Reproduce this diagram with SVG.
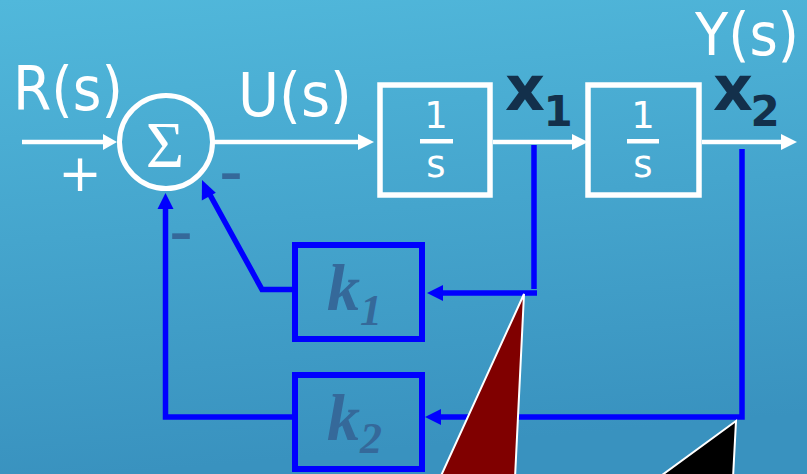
<svg xmlns="http://www.w3.org/2000/svg" width="807" height="474" viewBox="0 0 807 474">
<defs>
<linearGradient id="bg" x1="0" y1="0" x2="0.15" y2="1">
<stop offset="0" stop-color="#51b8db"/>
<stop offset="1" stop-color="#3992bf"/>
</linearGradient>
<style>
.w{fill:none;stroke:#fff;stroke-width:4.5}
.wh{fill:#fff}
.b{fill:none;stroke:#0000ff;stroke-width:5.5}
.bh{fill:#0000ff}
.blk{fill:none;stroke:#fff;stroke-width:5.5}
.kb{fill:none;stroke:#0000ff;stroke-width:6}
.lbl{font-family:"DejaVu Sans","Liberation Sans",sans-serif;fill:#fff}
.frac{font-family:"DejaVu Sans","Liberation Sans",sans-serif;fill:#fff;font-size:37px;text-anchor:middle}
.x{font-family:"DejaVu Sans","Liberation Sans",sans-serif;font-weight:bold;fill:#13304b;text-anchor:middle}
.k{font-family:"Liberation Serif","Times New Roman",serif;font-weight:bold;font-style:italic;fill:#35699a}
.m{font-family:"Liberation Sans",Arial,sans-serif;font-size:72px;fill:#35699a;text-anchor:middle}
</style>
</defs>
<rect width="807" height="474" fill="url(#bg)"/>

<g id="sum">
<circle cx="166" cy="142" r="46.5" fill="none" stroke="#fff" stroke-width="5"/>
<text x="165" y="167" font-family="Liberation Serif,serif" font-size="66" fill="#fff" text-anchor="middle">Σ</text>
</g>

<g id="block1">
<rect class="blk" x="380" y="85" width="110" height="110"/>
<text class="frac" x="436" y="128">1</text>
<rect class="wh" x="420" y="139" width="33" height="4.5"/>
<text class="frac" x="436" y="177">s</text>
</g>

<g id="block2">
<rect class="blk" x="588" y="85" width="111" height="110"/>
<text class="frac" x="643" y="128">1</text>
<rect class="wh" x="627" y="139" width="32" height="4.5"/>
<text class="frac" x="643" y="177">s</text>
</g>

<g id="k1">
<rect class="kb" x="295" y="245" width="127" height="94"/>
<text class="k" x="327" y="310" font-size="66">k</text>
<text class="k" x="360" y="325" font-size="44">1</text>
</g>

<g id="k2">
<rect class="kb" x="295" y="375" width="127" height="94"/>
<text class="k" x="327" y="440" font-size="66">k</text>
<text class="k" x="360" y="453" font-size="44">2</text>
</g>

<g id="labels">
<text class="lbl" x="13" y="110" font-size="60" textLength="110" lengthAdjust="spacingAndGlyphs">R(s)</text>
<text class="lbl" x="238" y="116" font-size="60" textLength="114" lengthAdjust="spacingAndGlyphs">U(s)</text>
<text class="lbl" x="695" y="55" font-size="58" textLength="104" lengthAdjust="spacingAndGlyphs">Y(s)</text>
<text class="lbl" x="80" y="191" font-size="52" text-anchor="middle">+</text>
<text class="m" x="231" y="195">-</text>
<text class="m" x="181" y="255">-</text>
<text class="x" x="525" y="110" font-size="62">x</text>
<text class="x" x="558" y="126" font-size="42">1</text>
<text class="x" x="733" y="110" font-size="62">x</text>
<text class="x" x="765" y="126" font-size="42">2</text>
</g>

<g id="connectors">
<line class="w" x1="22" y1="142" x2="104" y2="142"/>
<polygon class="wh" points="117,142 103,134 103,150"/>
<line class="w" x1="214" y1="142" x2="360" y2="142"/>
<polygon class="wh" points="374,142 358,134 358,150"/>
<line class="w" x1="493" y1="142" x2="574" y2="142"/>
<polygon class="wh" points="588,142 572,134 572,150"/>
<line class="w" x1="702" y1="142" x2="782" y2="142"/>
<polygon class="wh" points="797,142 781,134 781,150"/>

<line class="b" x1="534" y1="145" x2="534" y2="289"/>
<line class="b" x1="537" y1="293" x2="440" y2="293"/>
<polygon class="bh" points="427,293 443,285 443,301"/>

<polyline class="b" points="742,149 742,417 438,417"/>
<polygon class="bh" points="425,417 441,409 441,425"/>

<polyline class="b" points="292,289.5 262,289.5 209,193"/>
<polygon class="bh" points="202,180 201.8,200.5 215.8,192.8"/>

<polyline class="b" points="292,417 165.5,417 165.5,207"/>
<polygon class="bh" points="165.5,193 157.5,209 173.5,209"/>
</g>

<polygon points="524,294 440,478 515,478" fill="#800000" stroke="#fff" stroke-width="2"/>
<polygon points="736,421 658,478 733,478" fill="#000" stroke="#fff" stroke-width="2"/>
</svg>
